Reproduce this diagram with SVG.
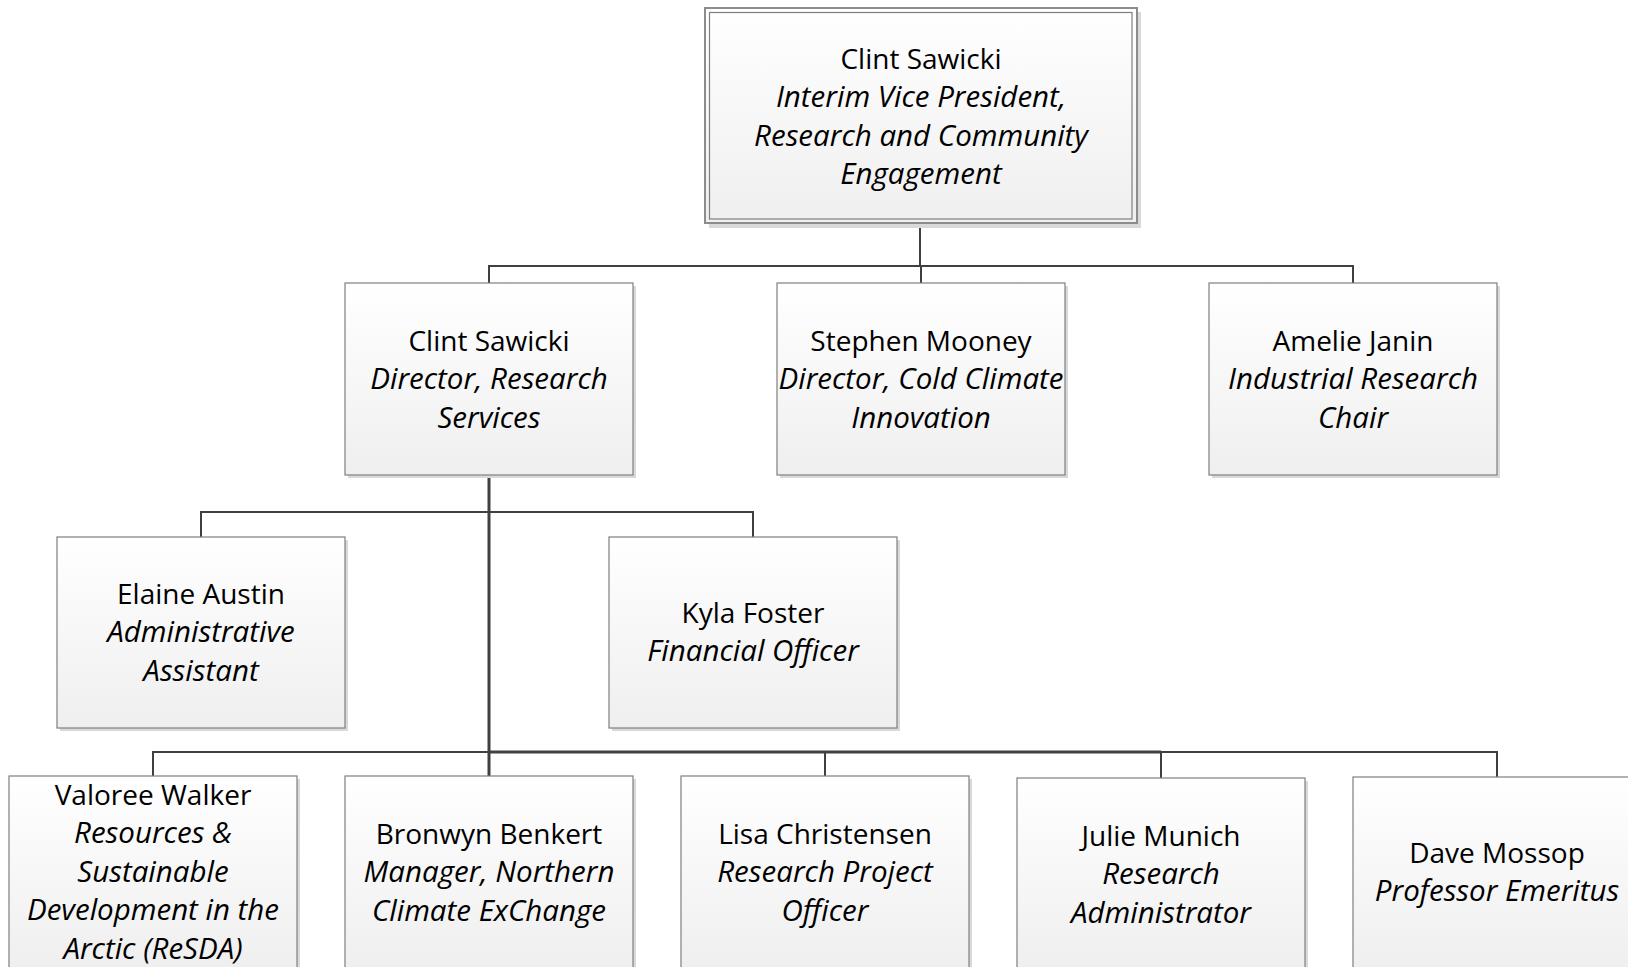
<svg xmlns="http://www.w3.org/2000/svg" width="1628" height="967" viewBox="0 0 1628 967">
<defs>
<linearGradient id="g" x1="0" y1="0" x2="0" y2="1">
<stop offset="0" stop-color="#ffffff"/>
<stop offset="1" stop-color="#efefef"/>
</linearGradient>
<style>
.box{fill:url(#g);stroke:#7f7f7f;stroke-width:1.2}
.sh{fill:#d9d9d9}
.ln{fill:none;stroke:#404040;stroke-width:2}
.tk{fill:none;stroke:#404040;stroke-width:3}
text{font-family:"Open Sans","Noto Sans","Liberation Sans",sans-serif;font-size:28px;fill:#000;text-anchor:middle}
.t{font-style:italic;font-size:29.5px}
</style>
</defs>
<rect width="1628" height="967" fill="#fff"/>
<g id="connectors">
<path class="ln" d="M920 223V266M489 283V266H1353V283M921 266V283"/>
<path class="tk" d="M489 476V752"/>
<path class="ln" d="M201 537V512H753V537"/>
<path class="ln" d="M153 776V752H1497V777M825 752V776M1161 752V778"/>
<path class="tk" d="M489 752H1161M489 752V776"/>
</g>
<g id="n-vp">
<rect class="sh" x="709" y="12" width="432" height="216"/>
<rect x="705" y="8" width="432" height="215" fill="url(#g)" stroke="#8c8c8c" stroke-width="2"/>
<rect x="709.5" y="12.5" width="422.5" height="206.5" fill="none" stroke="#7f7f7f" stroke-width="1.2"/>
<text x="921" y="69">Clint Sawicki</text>
<text class="t" x="921" y="107.4">Interim Vice President,</text>
<text class="t" x="921" y="145.8">Research and Community</text>
<text class="t" x="921" y="184.2">Engagement</text>
</g>
<g id="n-dir-rs">
<rect class="sh" x="348" y="286" width="288" height="192"/>
<rect class="box" x="345" y="283" width="288" height="192"/>
<text x="489" y="351">Clint Sawicki</text>
<text class="t" x="489" y="389.4">Director, Research</text>
<text class="t" x="489" y="427.8">Services</text>
</g>
<g id="n-mooney">
<rect class="sh" x="780" y="286" width="288" height="192"/>
<rect class="box" x="777" y="283" width="288" height="192"/>
<text x="921" y="351">Stephen Mooney</text>
<text class="t" x="921" y="389.4">Director, Cold Climate</text>
<text class="t" x="921" y="427.8">Innovation</text>
</g>
<g id="n-janin">
<rect class="sh" x="1212" y="286" width="288" height="192"/>
<rect class="box" x="1209" y="283" width="288" height="192"/>
<text x="1353" y="351">Amelie Janin</text>
<text class="t" x="1353" y="389.4">Industrial Research</text>
<text class="t" x="1353" y="427.8">Chair</text>
</g>
<g id="n-austin">
<rect class="sh" x="60" y="540" width="288" height="191"/>
<rect class="box" x="57" y="537" width="288" height="191"/>
<text x="201" y="604">Elaine Austin</text>
<text class="t" x="201" y="642.4">Administrative</text>
<text class="t" x="201" y="680.8">Assistant</text>
</g>
<g id="n-foster">
<rect class="sh" x="612" y="540" width="288" height="191"/>
<rect class="box" x="609" y="537" width="288" height="191"/>
<text x="753" y="623">Kyla Foster</text>
<text class="t" x="753" y="661.4">Financial Officer</text>
</g>
<g id="n-walker">
<rect class="sh" x="12" y="779" width="288" height="192"/>
<rect class="box" x="9" y="776" width="288" height="192"/>
<text x="153" y="805">Valoree Walker</text>
<text class="t" x="153" y="843.4">Resources &amp;</text>
<text class="t" x="153" y="881.8">Sustainable</text>
<text class="t" x="153" y="920.2">Development in the</text>
<text class="t" x="153" y="958.6">Arctic (ReSDA)</text>
</g>
<g id="n-benkert">
<rect class="sh" x="348" y="779" width="288" height="192"/>
<rect class="box" x="345" y="776" width="288" height="192"/>
<text x="489" y="844">Bronwyn Benkert</text>
<text class="t" x="489" y="882.4">Manager, Northern</text>
<text class="t" x="489" y="920.8">Climate ExChange</text>
</g>
<g id="n-christensen">
<rect class="sh" x="684" y="779" width="288" height="192"/>
<rect class="box" x="681" y="776" width="288" height="192"/>
<text x="825" y="844">Lisa Christensen</text>
<text class="t" x="825" y="882.4">Research Project</text>
<text class="t" x="825" y="920.8">Officer</text>
</g>
<g id="n-munich">
<rect class="sh" x="1020" y="781" width="288" height="192"/>
<rect class="box" x="1017" y="778" width="288" height="192"/>
<text x="1161" y="846">Julie Munich</text>
<text class="t" x="1161" y="884.4">Research</text>
<text class="t" x="1161" y="922.8">Administrator</text>
</g>
<g id="n-mossop">
<rect class="sh" x="1356" y="780" width="288" height="192"/>
<rect class="box" x="1353" y="777" width="288" height="192"/>
<text x="1497" y="863">Dave Mossop</text>
<text class="t" x="1497" y="901.4">Professor Emeritus</text>
</g>
</svg>
